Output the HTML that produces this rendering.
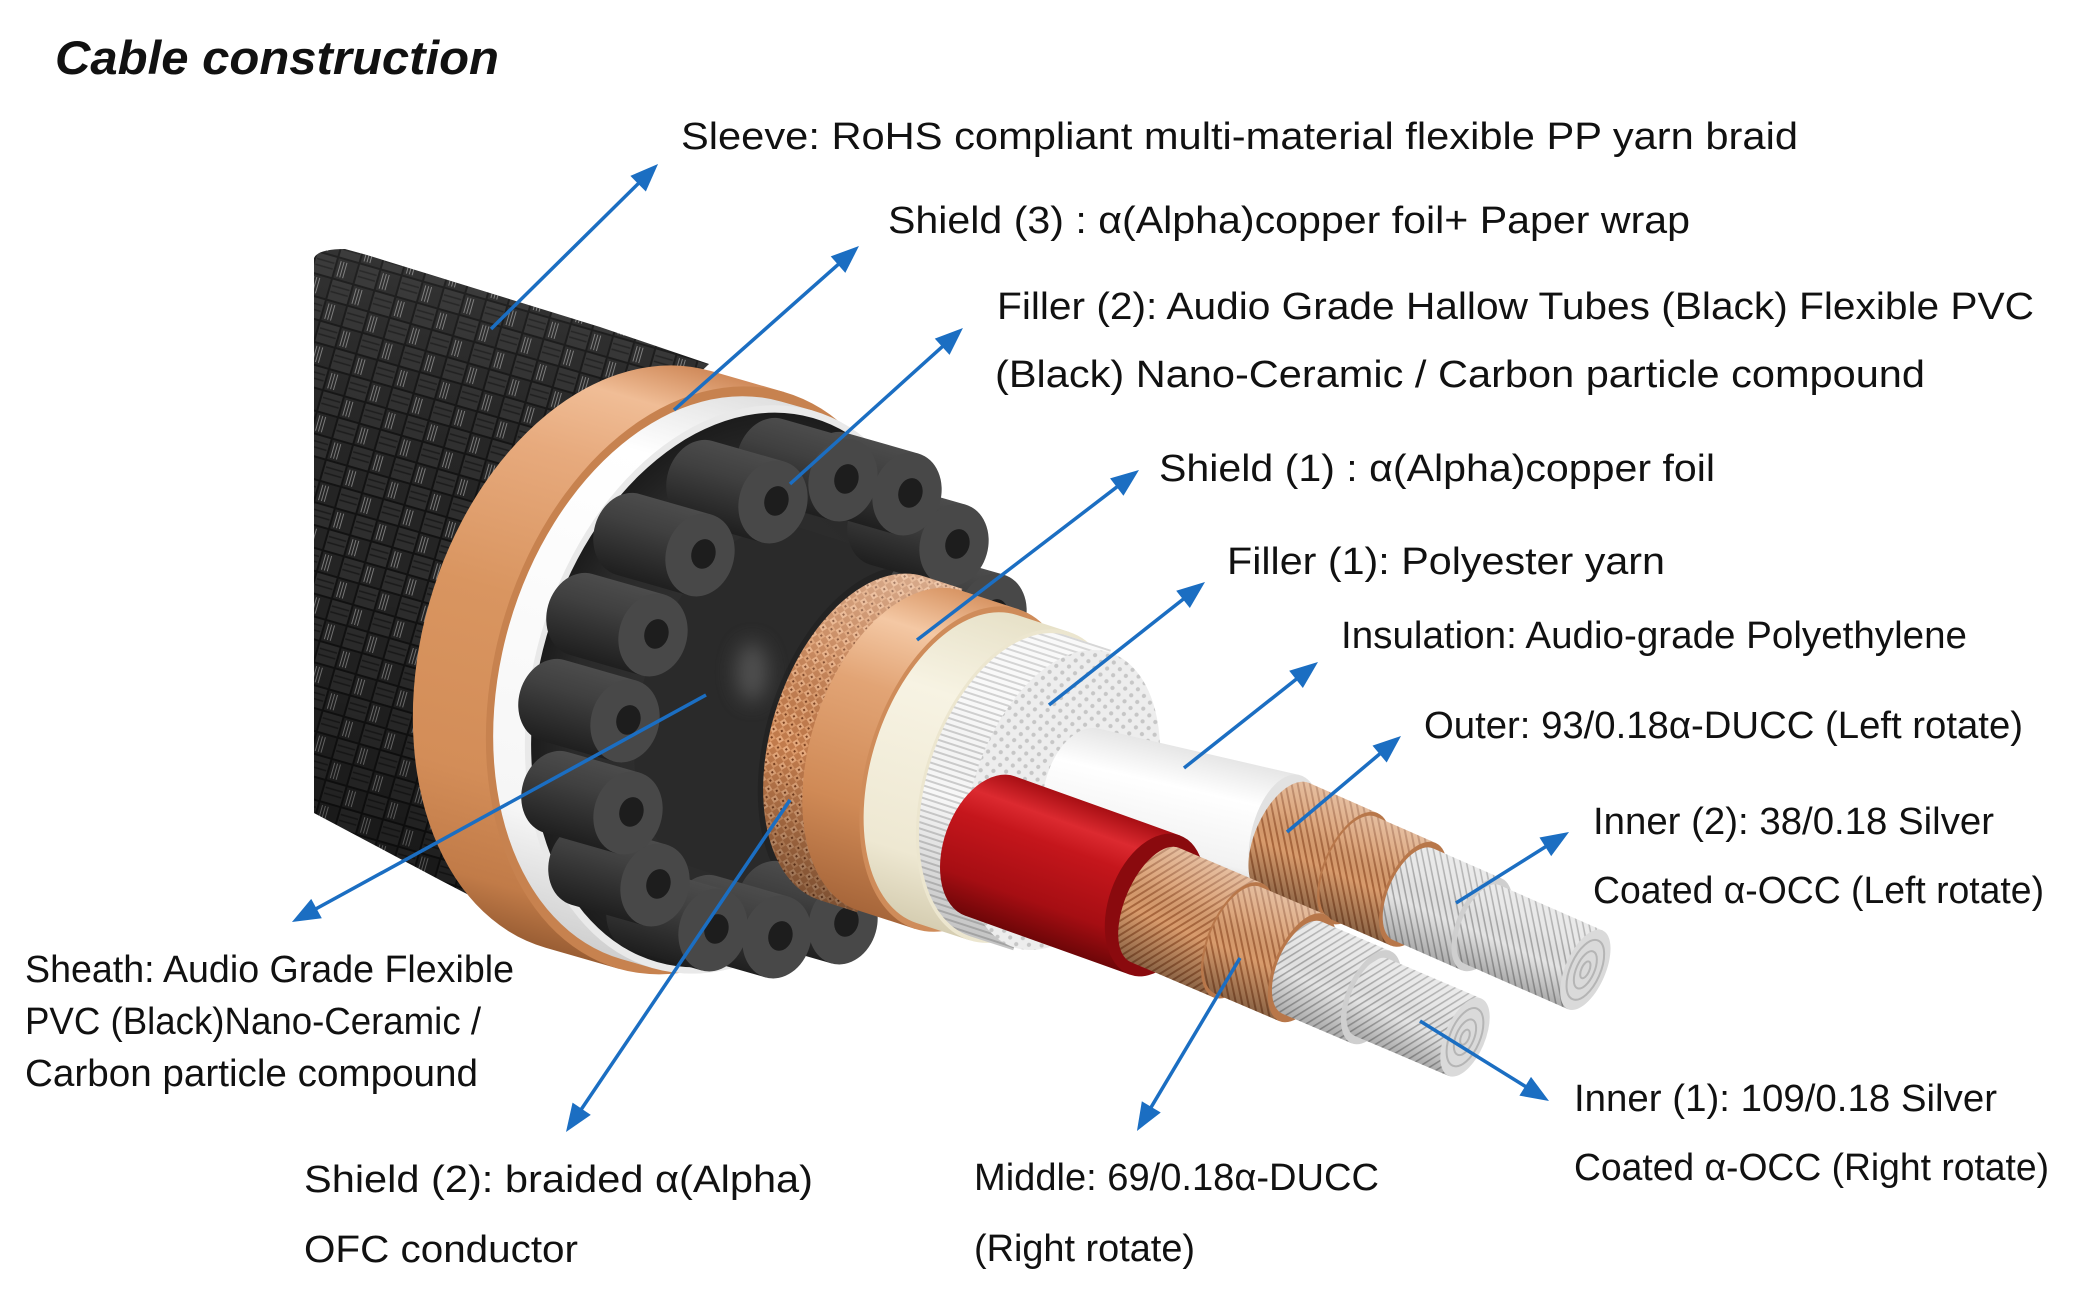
<!DOCTYPE html>
<html><head><meta charset="utf-8">
<style>
html,body{margin:0;padding:0;background:#fff;}
svg{display:block;}
text{font-family:"Liberation Sans","DejaVu Sans",sans-serif;fill:#111;}
</style></head><body>
<svg width="2094" height="1306" viewBox="0 0 2094 1306" xmlns="http://www.w3.org/2000/svg">
<defs>
  <marker id="ah" markerUnits="userSpaceOnUse" markerWidth="30" markerHeight="26" refX="8" refY="12" orient="auto" overflow="visible">
    <path d="M0,1 L28,12 L0,23 Z" fill="#1b6ec2"/>
  </marker>
  <pattern id="braidP" width="44" height="44" patternUnits="userSpaceOnUse" patternTransform="rotate(16)">
    <rect width="44" height="44" fill="#121212"/>
    <rect x="1" y="1" width="20" height="20" fill="#2e2e2e"/>
    <rect x="23" y="23" width="20" height="20" fill="#2e2e2e"/>
    <rect x="23" y="1" width="20" height="20" fill="#242424"/>
    <rect x="1" y="23" width="20" height="20" fill="#242424"/>
    <path d="M26,3v16M29,3v16M32,3v16M4,25v16M7,25v16M10,25v16" stroke="#7a7a7a" stroke-width="1"/>
    <path d="M2,7h18M2,13h18M24,29h18M24,35h18" stroke="#1a1a1a" stroke-width="1.5"/>
  </pattern>
  <linearGradient id="braidShade" gradientUnits="userSpaceOnUse" x1="520" y1="260" x2="420" y2="900">
    <stop offset="0" stop-color="#fff" stop-opacity="0.08"/>
    <stop offset="0.5" stop-color="#000" stop-opacity="0"/>
    <stop offset="1" stop-color="#000" stop-opacity="0.35"/>
  </linearGradient>
  <linearGradient id="shadeY" x1="0" y1="0" x2="0" y2="1">
    <stop offset="0" stop-color="#fff" stop-opacity="0.35"/>
    <stop offset="0.3" stop-color="#fff" stop-opacity="0.12"/>
    <stop offset="0.6" stop-color="#000" stop-opacity="0"/>
    <stop offset="1" stop-color="#000" stop-opacity="0.35"/>
  </linearGradient>
  <linearGradient id="cuBand" x1="0" y1="0" x2="0" y2="1">
    <stop offset="0" stop-color="#d08a5a"/>
    <stop offset="0.08" stop-color="#f0bd96"/>
    <stop offset="0.2" stop-color="#e7aa7d"/>
    <stop offset="0.45" stop-color="#d99560"/>
    <stop offset="0.75" stop-color="#d38d58"/>
    <stop offset="0.92" stop-color="#c17b48"/>
    <stop offset="1" stop-color="#9a5e34"/>
  </linearGradient>
  <linearGradient id="whBand" x1="0" y1="0" x2="0" y2="1">
    <stop offset="0" stop-color="#e0e0e0"/>
    <stop offset="0.15" stop-color="#ffffff"/>
    <stop offset="0.8" stop-color="#f6f6f6"/>
    <stop offset="1" stop-color="#cfcfcf"/>
  </linearGradient>
  <radialGradient id="fillerFace" cx="0.5" cy="0.5" r="0.5">
    <stop offset="0" stop-color="#343434"/>
    <stop offset="0.8" stop-color="#2a2a2a"/>
    <stop offset="1" stop-color="#1c1c1c"/>
  </radialGradient>
  <linearGradient id="tubeG" x1="0" y1="0" x2="0" y2="1">
    <stop offset="0" stop-color="#4c4c4c"/>
    <stop offset="0.35" stop-color="#404040"/>
    <stop offset="1" stop-color="#1f1f1f"/>
  </linearGradient>
  <g id="tube">
    <path d="M-75,-42 A34,42 0 0 0 -75,42 L0,42 L0,-42 Z" fill="url(#tubeG)"/>
    <ellipse cx="0" cy="0" rx="34" ry="42" fill="#484848"/>
    <ellipse cx="3" cy="-2" rx="12" ry="15" fill="#1d1d1d"/>
  </g>
  <pattern id="cuBraid" width="12" height="12" patternUnits="userSpaceOnUse" patternTransform="rotate(40)">
    <rect width="12" height="12" fill="#c27c4d"/>
    <rect x="0" y="0" width="6" height="6" fill="#e6a97c"/>
    <rect x="6" y="6" width="6" height="6" fill="#dc9a6a"/>
    <rect x="2" y="2" width="2" height="2" fill="#7a4020"/>
    <rect x="8" y="8" width="2" height="2" fill="#7a4020"/>
  </pattern>
  <linearGradient id="cuFoil" x1="0" y1="0" x2="0" y2="1">
    <stop offset="0" stop-color="#d89564"/>
    <stop offset="0.15" stop-color="#f4c8a4"/>
    <stop offset="0.35" stop-color="#e2a475"/>
    <stop offset="0.7" stop-color="#d08a56"/>
    <stop offset="1" stop-color="#a7663a"/>
  </linearGradient>
  <linearGradient id="cream" x1="0" y1="0" x2="0" y2="1">
    <stop offset="0" stop-color="#e7e1c8"/>
    <stop offset="0.3" stop-color="#f7f3e3"/>
    <stop offset="0.8" stop-color="#eee8d2"/>
    <stop offset="1" stop-color="#d6ceb2"/>
  </linearGradient>
  <pattern id="teeth" width="20" height="6" patternUnits="userSpaceOnUse">
    <rect width="20" height="6" fill="#f8f8f8"/>
    <rect y="4" width="20" height="2" fill="#cdcdcd"/>
  </pattern>
  <pattern id="dots" width="9" height="9" patternUnits="userSpaceOnUse" patternTransform="rotate(30)">
    <rect width="9" height="9" fill="#ededed"/>
    <circle cx="4.5" cy="4.5" r="2.1" fill="#c6c6c6"/>
  </pattern>
  <linearGradient id="redG" x1="0" y1="0" x2="0" y2="1">
    <stop offset="0" stop-color="#a80f14"/>
    <stop offset="0.18" stop-color="#dc2a30"/>
    <stop offset="0.35" stop-color="#c5161c"/>
    <stop offset="0.75" stop-color="#a60e13"/>
    <stop offset="1" stop-color="#6e0608"/>
  </linearGradient>
  <linearGradient id="whIns" x1="0" y1="0" x2="0" y2="1">
    <stop offset="0" stop-color="#e6e6e6"/>
    <stop offset="0.3" stop-color="#ffffff"/>
    <stop offset="0.8" stop-color="#f2f2f2"/>
    <stop offset="1" stop-color="#cccccc"/>
  </linearGradient>
  <pattern id="cuL" width="6" height="6" patternUnits="userSpaceOnUse" patternTransform="rotate(55)">
    <rect width="6" height="6" fill="#d89b6c"/>
    <rect width="6" height="2" fill="#a9673d"/>
  </pattern>
  <pattern id="cuR" width="6" height="6" patternUnits="userSpaceOnUse" patternTransform="rotate(-55)">
    <rect width="6" height="6" fill="#d89b6c"/>
    <rect width="6" height="2" fill="#a9673d"/>
  </pattern>
  <pattern id="agL" width="6" height="6" patternUnits="userSpaceOnUse" patternTransform="rotate(55)">
    <rect width="6" height="6" fill="#e4e4e4"/>
    <rect width="6" height="1.6" fill="#a6a6a6"/>
  </pattern>
  <pattern id="agR" width="6" height="6" patternUnits="userSpaceOnUse" patternTransform="rotate(-55)">
    <rect width="6" height="6" fill="#e4e4e4"/>
    <rect width="6" height="1.6" fill="#a6a6a6"/>
  </pattern>
  <filter id="blur10" x="-1" y="-1" width="3" height="3"><feGaussianBlur stdDeviation="10"/></filter>
  <clipPath id="leftClip"><rect x="314" y="0" width="1800" height="1306"/></clipPath>
</defs>

<rect width="2094" height="1306" fill="#fff"/>

<!-- ===== Cable illustration ===== -->
<g clip-path="url(#leftClip)">
  <path d="M314,258 Q318,249 345,249 L367,255 L600,327 L709,364 L650,420 L560,650 L560,900 L545,935 L521,922 L440,880 L314,813 Z" fill="url(#braidP)"/>
  <path d="M314,258 Q318,249 345,249 L367,255 L600,327 L709,364 L650,420 L560,650 L560,900 L545,935 L521,922 L440,880 L314,813 Z" fill="url(#braidShade)"/>
</g>

<g transform="translate(735,690) rotate(16)">
  <path d="M-111,-300 A207,300 0 0 0 -111,300 L-35,300 L-35,-300 Z" fill="url(#cuBand)"/>
  <ellipse cx="-35" cy="0" rx="207" ry="300" fill="#c7824f"/>
  <path d="M-35,-290 A200,290 0 0 0 -35,290 L-2,290 L-2,-290 Z" fill="url(#whBand)"/>
  <ellipse cx="-2" cy="0" rx="200" ry="290" fill="#e9e9e9"/>
  <ellipse cx="0" cy="0" rx="196" ry="283" fill="url(#fillerFace)"/>
</g>

<g transform="translate(1062,800) rotate(18)">
  <path d="M-330,-178 A105,178 0 0 0 -330,178 L-200,178 L-200,-178 Z" fill="#2a2a2a"/>
  <ellipse cx="-200" cy="0" rx="105" ry="178" fill="#232323"/>
</g>
<ellipse cx="752" cy="672" rx="16" ry="30" fill="#6a6a6a" opacity="0.6" filter="url(#blur10)"/>

<use href="#tube" transform="translate(992,615) rotate(16)"/>
<use href="#tube" transform="translate(843,923) rotate(16)"/>
<use href="#tube" transform="translate(777,937) rotate(16)"/>
<use href="#tube" transform="translate(713,930) rotate(16)"/>
<use href="#tube" transform="translate(655,885) rotate(16)"/>
<use href="#tube" transform="translate(628,813) rotate(16)"/>
<use href="#tube" transform="translate(625,721) rotate(16)"/>
<use href="#tube" transform="translate(954,545) rotate(16)"/>
<use href="#tube" transform="translate(907,494) rotate(16)"/>
<use href="#tube" transform="translate(843,480) rotate(16)"/>
<use href="#tube" transform="translate(773,502) rotate(16)"/>
<use href="#tube" transform="translate(653,635) rotate(16)"/>
<use href="#tube" transform="translate(700,555) rotate(16)"/>

<g transform="translate(1062,800) rotate(18)">
  <path d="M-200,-170 A100,170 0 0 0 -200,170 L-160,170 L-160,-170 Z" fill="url(#cuBraid)"/>
  <path d="M-200,-170 A100,170 0 0 0 -200,170 L-160,170 L-160,-170 Z" fill="url(#shadeY)"/>
  <path d="M-160,-168 A99,168 0 0 0 -160,168 L-100,168 L-100,-168 Z" fill="url(#cuFoil)"/>
  <ellipse cx="-100" cy="0" rx="99" ry="168" fill="#cf8c5a"/>
  <path d="M-100,-162 A95,162 0 0 0 -100,162 L-45,162 L-45,-162 Z" fill="url(#cream)"/>
  <ellipse cx="-45" cy="0" rx="95" ry="162" fill="#ece6cf"/>
  <path d="M-45,-158 A92,158 0 0 0 -45,158 L0,158 L0,-158 Z" fill="url(#teeth)"/>
  <path d="M-45,-158 A92,158 0 0 0 -45,158 L0,158 L0,-158 Z" fill="url(#shadeY)" opacity="0.6"/>
  <ellipse cx="0" cy="0" rx="90" ry="155" fill="url(#dots)"/>
</g>

<g transform="translate(1084,792) rotate(13)">
  <path d="M0,-65 A40,65 0 0 0 0,65 L206,65 L206,-65 Z" fill="url(#whIns)"/>
  <ellipse cx="206" cy="0" rx="34" ry="65" fill="#e2e2e2"/>
</g>

<g transform="translate(1285,838) rotate(23.7)">
  <path d="M0,-60 A30,60 0 0 0 0,60 L75,60 L75,-60 Z" fill="url(#cuL)"/>
  <path d="M0,-60 A30,60 0 0 0 0,60 L75,60 L75,-60 Z" fill="url(#shadeY)"/>
  <ellipse cx="75" cy="0" rx="30" ry="60" fill="#b8774a"/>
  <path d="M75,-56 A28,56 0 0 0 75,56 L140,56 L140,-56 Z" fill="url(#cuL)"/>
  <path d="M75,-56 A28,56 0 0 0 75,56 L140,56 L140,-56 Z" fill="url(#shadeY)"/>
  <ellipse cx="140" cy="0" rx="28" ry="56" fill="#b8774a"/>
  <path d="M140,-50 A25,50 0 0 0 140,50 L215,50 L215,-50 Z" fill="url(#agL)"/>
  <path d="M140,-50 A25,50 0 0 0 140,50 L215,50 L215,-50 Z" fill="url(#shadeY)" opacity="0.7"/>
  <ellipse cx="215" cy="0" rx="25" ry="50" fill="#cfcfcf"/>
  <path d="M215,-43 A20,43 0 0 0 215,43 L328,43 L328,-43 Z" fill="url(#agL)"/>
  <path d="M215,-43 A20,43 0 0 0 215,43 L328,43 L328,-43 Z" fill="url(#shadeY)" opacity="0.7"/>
  <ellipse cx="328" cy="0" rx="20" ry="43" fill="#dadada"/>
  <ellipse cx="328" cy="0" rx="15" ry="32" fill="none" stroke="#b5b5b5" stroke-width="2"/>
  <ellipse cx="328" cy="0" rx="9" ry="20" fill="none" stroke="#b5b5b5" stroke-width="2"/>
  <ellipse cx="328" cy="0" rx="4" ry="9" fill="none" stroke="#b5b5b5" stroke-width="2"/>
</g>

<g transform="translate(990,846) rotate(19.7)">
  <path d="M0,-74 A46,74 0 0 0 0,74 L175,74 L175,-74 Z" fill="url(#redG)"/>
  <ellipse cx="175" cy="0" rx="46" ry="74" fill="#8a0a0e"/>
</g>

<g transform="translate(1155,905) rotate(23.1)">
  <path d="M0,-62 A30,62 0 0 0 0,62 L90,62 L90,-62 Z" fill="url(#cuR)"/>
  <path d="M0,-62 A30,62 0 0 0 0,62 L90,62 L90,-62 Z" fill="url(#shadeY)"/>
  <ellipse cx="90" cy="0" rx="30" ry="62" fill="#b8774a"/>
  <path d="M90,-58 A28,58 0 0 0 90,58 L160,58 L160,-58 Z" fill="url(#cuL)"/>
  <path d="M90,-58 A28,58 0 0 0 90,58 L160,58 L160,-58 Z" fill="url(#shadeY)"/>
  <ellipse cx="160" cy="0" rx="28" ry="58" fill="#b8774a"/>
  <path d="M160,-50 A25,50 0 0 0 160,50 L235,50 L235,-50 Z" fill="url(#agR)"/>
  <path d="M160,-50 A25,50 0 0 0 160,50 L235,50 L235,-50 Z" fill="url(#shadeY)" opacity="0.7"/>
  <ellipse cx="235" cy="0" rx="25" ry="50" fill="#cfcfcf"/>
  <path d="M235,-42 A20,42 0 0 0 235,42 L337,42 L337,-42 Z" fill="url(#agR)"/>
  <path d="M235,-42 A20,42 0 0 0 235,42 L337,42 L337,-42 Z" fill="url(#shadeY)" opacity="0.7"/>
  <ellipse cx="337" cy="0" rx="20" ry="42" fill="#dadada"/>
  <ellipse cx="337" cy="0" rx="15" ry="31" fill="none" stroke="#b5b5b5" stroke-width="2"/>
  <ellipse cx="337" cy="0" rx="9" ry="19" fill="none" stroke="#b5b5b5" stroke-width="2"/>
  <ellipse cx="337" cy="0" rx="4" ry="8" fill="none" stroke="#b5b5b5" stroke-width="2"/>
</g>

<g stroke="#1b6ec2" stroke-width="3.5" fill="none" marker-end="url(#ah)">
  <line x1="491" y1="329" x2="643.8" y2="178.1"/>
  <line x1="674" y1="410" x2="844.0" y2="259.3"/>
  <line x1="790" y1="484" x2="948.1" y2="341.4"/>
  <line x1="917" y1="640" x2="1123.1" y2="482.2"/>
  <line x1="1049" y1="705" x2="1189.3" y2="594.4"/>
  <line x1="1184" y1="768" x2="1302.3" y2="674.4"/>
  <line x1="1287" y1="832" x2="1385.7" y2="748.9"/>
  <line x1="1456" y1="903" x2="1552.1" y2="842.6"/>
  <line x1="1420" y1="1021" x2="1532.0" y2="1090.5"/>
  <line x1="1240" y1="958" x2="1147.2" y2="1113.8"/>
  <line x1="706" y1="695" x2="309.5" y2="912.4"/>
  <line x1="790" y1="800" x2="577.2" y2="1115.4"/>
</g>

<text x="55" y="74" font-size="47" font-weight="bold" font-style="italic" textLength="444" lengthAdjust="spacingAndGlyphs">Cable construction</text>

<g font-size="38">
  <text x="681" y="149" textLength="1117" lengthAdjust="spacingAndGlyphs">Sleeve: RoHS compliant multi-material flexible PP yarn braid</text>
  <text x="888" y="233" textLength="802" lengthAdjust="spacingAndGlyphs">Shield (3) : α(Alpha)copper foil+ Paper wrap</text>
  <text x="997" y="319" textLength="1037" lengthAdjust="spacingAndGlyphs">Filler (2):  Audio Grade Hallow Tubes (Black) Flexible PVC</text>
  <text x="995" y="387" textLength="930" lengthAdjust="spacingAndGlyphs">(Black) Nano-Ceramic / Carbon particle compound</text>
  <text x="1159" y="481" textLength="556" lengthAdjust="spacingAndGlyphs">Shield (1) : α(Alpha)copper foil</text>
  <text x="1227" y="574" textLength="438" lengthAdjust="spacingAndGlyphs">Filler (1): Polyester yarn</text>
  <text x="1341" y="648" textLength="626" lengthAdjust="spacingAndGlyphs">Insulation: Audio-grade Polyethylene</text>
  <text x="1424" y="738" textLength="599" lengthAdjust="spacingAndGlyphs">Outer: 93/0.18α-DUCC (Left rotate)</text>
  <text x="1593" y="834" textLength="401" lengthAdjust="spacingAndGlyphs">Inner (2): 38/0.18 Silver</text>
  <text x="1593" y="903" textLength="451" lengthAdjust="spacingAndGlyphs">Coated α-OCC (Left rotate)</text>
  <text x="1574" y="1111" textLength="423" lengthAdjust="spacingAndGlyphs">Inner (1): 109/0.18 Silver</text>
  <text x="1574" y="1180" textLength="475" lengthAdjust="spacingAndGlyphs">Coated α-OCC (Right rotate)</text>
  <text x="974" y="1190" textLength="405" lengthAdjust="spacingAndGlyphs">Middle: 69/0.18α-DUCC</text>
  <text x="974" y="1261" textLength="221" lengthAdjust="spacingAndGlyphs">(Right rotate)</text>
  <text x="25" y="982" textLength="489" lengthAdjust="spacingAndGlyphs">Sheath: Audio Grade Flexible</text>
  <text x="25" y="1034" textLength="456" lengthAdjust="spacingAndGlyphs">PVC (Black)Nano-Ceramic /</text>
  <text x="25" y="1086" textLength="453" lengthAdjust="spacingAndGlyphs">Carbon particle compound</text>
  <text x="304" y="1192" textLength="509" lengthAdjust="spacingAndGlyphs">Shield (2): braided α(Alpha)</text>
  <text x="304" y="1262" textLength="274" lengthAdjust="spacingAndGlyphs">OFC conductor</text>
</g>
</svg>
</body></html>
